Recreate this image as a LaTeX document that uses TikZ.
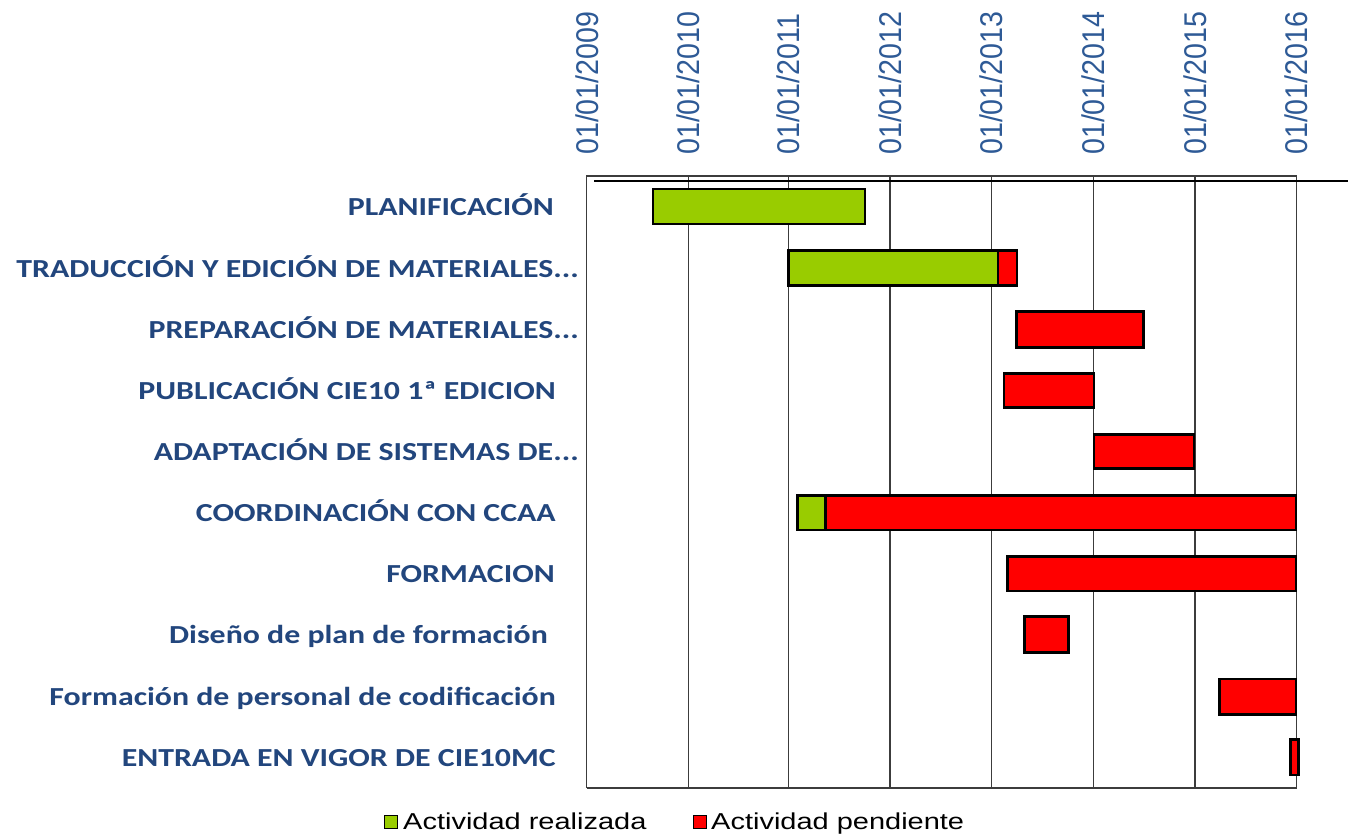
\documentclass[tikz,border=0pt]{standalone}
\usepackage{fontspec}
\usepackage{graphicx}
\setmainfont{Carlito}
\newfontfamily\arialf{Liberation Sans}
\definecolor{lbl}{RGB}{34,70,125}
\definecolor{axl}{RGB}{46,90,150}
\definecolor{done}{RGB}{153,204,0}
\definecolor{todo}{RGB}{255,0,0}
\definecolor{gridc}{RGB}{60,60,60}
\newcommand\wlab[1]{\scalebox{1.225}[1]{#1}}
\newcommand\wleg[1]{\scalebox{1.26}[1]{#1}}
\newcommand\wax[1]{\scalebox{1}[1.1]{#1}}
\tikzset{
  donebar/.style={draw=black, fill=done, line width=2.5pt},
  todobar/.style={draw=black, fill=todo, line width=2.5pt},
  gridln/.style={draw=gridc, line width=1.5pt},
  lab/.style={anchor=base east, inner sep=0pt, text=lbl, font=\fontsize{26}{26}\selectfont\bfseries},
  axlab/.style={rotate=90, anchor=west, inner sep=0pt, text=axl, font=\arialf\fontsize{28.6}{28.6}\selectfont},
  leglab/.style={anchor=base west, inner sep=0pt, text=black, font=\arialf\fontsize{23}{23}\selectfont},
  legbox/.style={draw=black, line width=1.5pt}
}
\begin{document}
\begin{tikzpicture}[x=1pt,y=-1pt]
\useasboundingbox (0,0) rectangle (1348,834);
% grid
\foreach \gx in {688.3,788.5,890,991.7,1093.3,1195,1296.7}{
  \draw[gridln] (\gx,176) -- (\gx,788);
}
\draw[gridln] (586.5,788) -- (586.5,176) -- (1296.7,176);
\draw[gridln] (586.5,788) -- (1296.7,788);
\draw[draw=black, line width=2.5pt] (594,181) -- (1348,181);
% axis labels
\node[axlab] (y2009) at (587,155) {\wax{01/01/2009}};
\node[axlab] (y2010) at (688.3,155) {\wax{01/01/2010}};
\node[axlab] (y2011) at (788.5,155) {\wax{01/01/2011}};
\node[axlab] (y2012) at (890,155) {\wax{01/01/2012}};
\node[axlab] (y2013) at (991.7,155) {\wax{01/01/2013}};
\node[axlab] (y2014) at (1093.3,155) {\wax{01/01/2014}};
\node[axlab] (y2015) at (1195,155) {\wax{01/01/2015}};
\node[axlab] (y2016) at (1296.7,155) {\wax{01/01/2016}};
% bars
\draw[donebar] (653,189) rectangle (865,224);
\draw[donebar] (788.5,250.7) rectangle (998,285.7);
\draw[todobar] (998,250.7) rectangle (1017,285.7);
\draw[todobar] (1016.7,311.7) rectangle (1143.3,347.3);
\draw[todobar] (1004,373.3) rectangle (1094,407.3);
\draw[todobar] (1094,434.3) rectangle (1194,468.3);
\draw[donebar] (797.7,495.7) rectangle (825.7,530);
\draw[todobar] (825.7,495.7) rectangle (1296,530);
\draw[todobar] (1007.3,556.7) rectangle (1296,591);
\draw[todobar] (1024.3,616.7) rectangle (1068.3,652.7);
\draw[todobar] (1219.3,679) rectangle (1296,714.3);
\draw[todobar] (1290.7,739.3) rectangle (1298.3,775);
% labels
\node[lab] (l1) at (554,215.5) {\wlab{PLANIFICACIÓN}};
\node[lab] (l2) at (579,277) {\wlab{TRADUCCIÓN Y EDICIÓN DE MATERIALES...}};
\node[lab] (l3) at (579,338.5) {\wlab{PREPARACIÓN DE MATERIALES...}};
\node[lab] (l4) at (556,399.3) {\wlab{PUBLICACIÓN CIE10 1ª EDICION}};
\node[lab] (l5) at (579,460.3) {\wlab{ADAPTACIÓN DE SISTEMAS DE...}};
\node[lab] (l6) at (556,521.8) {\wlab{COORDINACIÓN CON CCAA}};
\node[lab] (l7) at (555,582.8) {\wlab{FORMACION}};
\node[lab] (l8) at (548,643.7) {\wlab{Diseño de plan de formación}};
\node[lab] (l9) at (556,705.7) {\wlab{Formación de personal de codificación}};
\node[lab] (l10) at (556,766.2) {\wlab{ENTRADA EN VIGOR DE CIE10MC}};
% legend
\draw[legbox, fill=done] (384.5,815.5) rectangle (397.5,828.5);
\node[leglab] (lg1) at (403,829) {\wleg{Actividad realizada}};
\draw[legbox, fill=todo] (693.5,815.5) rectangle (706.5,828.5);
\node[leglab] (lg2) at (711,829) {\wleg{Actividad pendiente}};
\end{tikzpicture}
\end{document}
